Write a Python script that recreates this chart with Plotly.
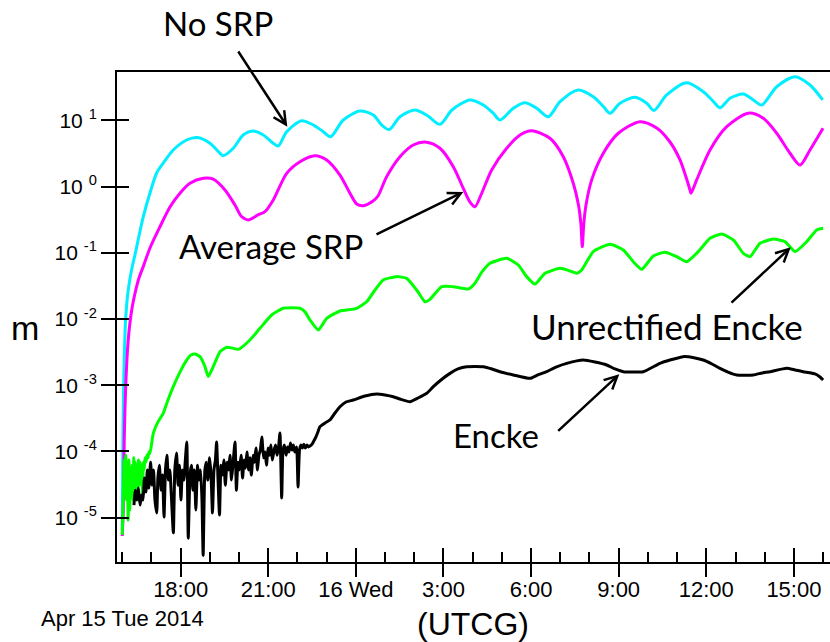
import plotly.graph_objects as go
import pandas as pd

# ---------------- data (hours after 2014-04-15 16:00 UTCG, values in m) ----------------
START = pd.Timestamp("2014-04-15 16:00")

nosrp_hours = [0.000, 0.024, 0.058, 0.116, 0.205, 0.332, 0.435, 0.572, 0.719, 0.949,
               1.178, 1.404, 1.747, 2.205, 2.568, 3.003, 3.346, 3.459, 3.801, 4.144,
               4.486, 4.829, 5.171, 5.342, 5.630, 6.144, 6.541, 6.884, 7.137, 7.568,
               8.140, 8.596, 8.884, 9.144, 9.510, 10.024, 10.469, 10.880, 11.291, 11.908,
               12.363, 12.695, 12.935, 13.390, 13.791, 14.192, 14.589, 14.990, 15.616, 16.130,
               16.462, 16.702, 17.045, 17.558, 17.959, 18.209, 18.644, 19.329, 19.897, 20.229,
               20.469, 20.812, 21.267, 21.610, 21.897, 22.411, 23.038, 23.551, 23.986]
nosrp_m = [6.5e-6, 2.1e-4, 1.7e-3, 1.0e-2, 2.74e-2, 5.89e-2, 9.25e-2, 0.179, 0.347, 0.798,
           1.60, 2.26, 3.56, 5.04, 5.50, 4.50, 3.18, 2.92, 3.78, 6.00,
           6.89, 6.00, 4.50, 4.09, 6.73, 9.86, 8.49, 6.73, 5.65, 10.1,
           13.8, 12.0, 8.49, 7.26, 11.3, 14.3, 11.6, 8.70, 14.3, 20.3,
           17.0, 12.9, 10.1, 15.2, 18.4, 15.2, 11.3, 19.1, 28.7, 22.7,
           16.4, 12.8, 18.1, 22.2, 18.1, 14.1, 24.1, 37.0, 27.0, 19.5,
           15.5, 21.5, 24.9, 20.3, 17.0, 32.1, 45.5, 34.1, 20.3]

avgsrp_hours = [0.000, 0.034, 0.068, 0.127, 0.205, 0.298, 0.401, 0.572, 0.719, 0.949,
                1.291, 1.634, 1.976, 2.318, 2.774, 3.116, 3.517, 3.860, 4.089, 4.315,
                4.647, 4.887, 5.171, 5.630, 6.086, 6.599, 7.000, 7.455, 7.798, 8.027,
                8.253, 8.586, 8.757, 9.055, 9.510, 9.966, 10.425, 10.880, 11.336, 11.678,
                11.908, 12.079, 12.308, 12.651, 13.164, 13.620, 14.021, 14.647, 15.103, 15.445,
                15.623, 15.709, 15.753, 15.801, 15.880, 16.075, 16.473, 16.986, 17.729, 18.301,
                18.757, 19.099, 19.305, 19.442, 19.476, 19.671, 20.127, 20.699, 21.438, 21.952,
                22.411, 22.866, 23.209, 23.551, 23.997]
avgsrp_m = [5.3e-6, 1.31e-5, 1.49e-4, 1.20e-3, 4.82e-3, 1.15e-2, 2.07e-2, 4.16e-2, 6.17e-2, 0.118,
            0.247, 0.491, 0.791, 1.12, 1.33, 1.29, 0.887, 0.526, 0.350, 0.313,
            0.372, 0.417, 0.626, 1.58, 2.37, 2.92, 2.52, 1.49, 0.791, 0.545,
            0.514, 0.605, 0.719, 1.41, 2.82, 4.24, 4.66, 3.78, 1.99, 0.940,
            0.583, 0.496, 0.791, 1.78, 3.78, 6.00, 6.97, 5.35, 2.82, 1.12,
            0.526, 0.262, 0.123, 0.262, 0.526, 1.26, 3.18, 6.37, 9.53, 7.65,
            4.70, 2.52, 1.39, 0.887, 0.791, 1.26, 3.56, 8.00, 12.8, 10.7,
            6.37, 3.18, 2.11, 3.56, 7.57]

unrect_hours = [0.000, 0.034, 0.065, 0.092, 0.120, 0.147, 0.175, 0.202, 0.229, 0.257,
                0.284, 0.312, 0.339, 0.366, 0.394, 0.421, 0.449, 0.476, 0.503, 0.531,
                0.558, 0.586, 0.613, 0.640, 0.668, 0.695, 0.723, 0.750, 0.777, 0.812,
                0.846, 0.880, 0.914, 0.949,
                1.062, 1.223, 1.404, 1.565, 1.747, 1.976, 2.205, 2.353, 2.490, 2.661,
                2.832, 2.945, 3.116, 3.346, 3.575, 3.757, 3.973, 4.373, 4.716, 5.116,
                5.514, 6.086, 6.257, 6.428, 6.712, 7.000, 7.455, 8.027, 8.370, 8.654,
                8.938, 9.397, 9.740, 10.082, 10.366, 10.538, 10.938, 11.336, 11.849, 12.079,
                12.318, 12.592, 13.164, 13.562, 13.849, 14.134, 14.476, 14.990, 15.332, 15.562,
                15.733, 16.130, 16.702, 17.158, 17.500, 17.788, 18.185, 18.586, 18.986, 19.329,
                19.726, 20.127, 20.527, 20.925, 21.267, 21.497, 21.839, 22.295, 22.695, 23.038,
                23.438, 23.781, 24.000]
unrect_m = [5.5e-6, 1.85e-5, 7.4e-5, 5.3e-5, 8.8e-5, 1.85e-5, 5.3e-5, 9.2e-6, 7.4e-5, 1.31e-5,
            5.3e-5, 2.2e-5, 6.2e-5, 1.85e-5, 8.0e-5, 3.7e-5, 6.9e-5, 2.6e-5, 5.3e-5, 1.85e-5,
            7.4e-5, 3.1e-5, 6.9e-5, 3.7e-5, 6.2e-5, 2.2e-5, 6.9e-5, 5.3e-5, 8.0e-5, 6.9e-5,
            8.8e-5, 8.0e-5, 9.8e-5, 9.4e-5,
            1.88e-4, 2.79e-4, 3.77e-4, 5.98e-4, 9.51e-4, 1.58e-3, 2.40e-3, 2.86e-3, 2.96e-3, 2.70e-3,
            1.91e-3, 1.35e-3, 1.91e-3, 3.21e-3, 3.74e-3, 3.65e-3, 3.48e-3, 4.82e-3, 7.23e-3, 1.15e-2,
            1.45e-2, 1.45e-2, 1.28e-2, 9.66e-3, 6.82e-3, 1.02e-2, 1.32e-2, 1.45e-2, 1.82e-2, 2.74e-2,
            3.88e-2, 4.36e-2, 4.11e-2, 2.74e-2, 1.82e-2, 1.98e-2, 3.08e-2, 3.08e-2, 2.84e-2, 3.46e-2,
            5.13e-2, 6.93e-2, 8.24e-2, 6.53e-2, 4.36e-2, 3.37e-2, 4.90e-2, 5.82e-2, 5.31e-2, 4.90e-2,
            5.50e-2, 0.104, 0.134, 0.110, 7.33e-2, 5.62e-2, 8.93e-2, 0.102, 8.73e-2, 7.33e-2,
            0.104, 0.165, 0.192, 0.156, 9.82e-2, 8.73e-2, 0.139, 0.161, 0.147, 0.104,
            0.147, 0.221, 0.234]

encke_hours = [0.40, 0.45, 0.50, 0.55, 0.61, 0.66, 0.71, 0.76, 0.81, 0.86,
               0.91, 0.97, 1.02, 1.07, 1.12, 1.18, 1.22, 1.27, 1.33, 1.38,
               1.43, 1.48, 1.53, 1.58, 1.63, 1.68, 1.75, 1.80, 1.86, 1.91,
               1.96, 2.01, 2.06, 2.11, 2.16, 2.21, 2.26, 2.32, 2.37, 2.42,
               2.47, 2.52, 2.58, 2.63, 2.68, 2.73, 2.77, 2.83, 2.88, 2.93,
               2.99, 3.04, 3.09, 3.14, 3.19, 3.23, 3.28, 3.33, 3.38, 3.43,
               3.48, 3.53, 3.59, 3.64, 3.69, 3.74, 3.79, 3.86, 3.91, 3.96,
               4.01, 4.07, 4.12, 4.17, 4.22, 4.27, 4.32, 4.37, 4.42, 4.48,
               4.53, 4.58, 4.63, 4.68, 4.73, 4.78, 4.84, 4.89, 4.94, 4.99,
               5.04, 5.09, 5.14, 5.20, 5.25, 5.30, 5.35, 5.40, 5.46, 5.50,
               5.55, 5.61, 5.66, 5.71, 5.76, 5.81, 5.86, 5.91, 5.97, 6.02,
               6.07, 6.12, 6.17, 6.22, 6.27, 6.33, 6.38, 6.43, 6.50, 6.56,
               6.63, 6.70,
               6.770, 6.942, 7.113, 7.284, 7.455, 7.661, 7.911, 8.312, 8.712, 8.997,
               9.281, 9.510, 9.853, 10.127, 10.425, 10.651, 10.914, 11.223, 11.497, 11.795,
               12.363, 12.661, 12.935, 13.390, 13.962, 14.236, 14.534, 14.853, 15.219, 15.788,
               16.188, 16.589, 16.873, 17.158, 17.842, 18.106, 18.414, 18.757, 19.212, 19.613,
               19.897, 20.195, 20.469, 20.743, 21.041, 21.610, 21.908, 22.182, 22.753, 23.038,
               23.322, 23.723, 23.894, 24.000]
encke_m = [1.55e-5, 2.6e-5, 1.85e-5, 2.8e-5, 1.55e-5, 2.2e-5, 1.85e-5, 3.97e-5, 2.44e-5, 5.25e-5,
           2.8e-5, 6.9e-5, 3.1e-5, 5.25e-5, 1.85e-5, 1.18e-5, 3.97e-5, 6.2e-5, 2.6e-5, 4.4e-5,
           1.02e-5, 5.25e-5, 8.8e-5, 3.7e-5, 5.25e-5, 2.2e-5, 5.9e-6, 5.25e-5, 9.5e-5, 3.1e-5,
           6.2e-5, 1.85e-5, 5.25e-5, 3.7e-5, 7.4e-5, 1.39e-4, 4.9e-6, 4.4e-5, 6.2e-5, 2.6e-5,
           5.25e-5, 1.31e-5, 6.2e-5, 3.7e-5, 5.25e-5, 1.85e-5, 2.7e-6, 5.25e-5, 6.9e-5, 3.7e-5,
           8.0e-5, 4.4e-5, 1.18e-5, 5.25e-5, 7.4e-5, 1.39e-4, 3.7e-5, 1.10e-5, 6.2e-5, 4.4e-5,
           7.4e-5, 3.1e-5, 6.9e-5, 5.25e-5, 8.8e-5, 3.7e-5, 6.2e-5, 1.39e-4, 2.6e-5, 6.9e-5,
           5.25e-5, 8.8e-5, 3.97e-5, 7.4e-5, 5.6e-5, 9.8e-5, 5.25e-5, 8.0e-5, 4.4e-5, 8.8e-5,
           6.9e-5, 1.13e-4, 5.25e-5, 8.8e-5, 1.05e-4, 1.65e-4, 8.0e-5, 9.8e-5, 6.2e-5, 1.13e-4,
           8.8e-5, 1.25e-4, 7.4e-5, 1.05e-4, 1.25e-4, 8.8e-5, 1.13e-4, 1.90e-4, 1.98e-5, 9.8e-5,
           1.25e-4, 8.8e-5, 1.17e-4, 9.8e-5, 1.34e-4, 1.05e-4, 1.25e-4, 9.8e-5, 1.17e-4, 2.9e-5,
           1.05e-4, 1.25e-4, 1.13e-4, 1.29e-4, 1.13e-4, 1.25e-4, 1.17e-4, 1.21e-4, 1.29e-4, 1.44e-4,
           1.65e-4, 1.97e-4,
           2.37e-4, 2.69e-4, 2.99e-4, 3.81e-4, 4.74e-4, 5.58e-4, 5.98e-4, 6.87e-4, 7.37e-4, 7.12e-4,
           6.71e-4, 6.19e-4, 5.64e-4, 6.41e-4, 7.55e-4, 9.51e-4, 1.20e-3, 1.51e-3, 1.76e-3, 1.90e-3,
           1.90e-3, 1.76e-3, 1.60e-3, 1.43e-3, 1.27e-3, 1.43e-3, 1.60e-3, 1.88e-3, 2.14e-3, 2.40e-3,
           2.24e-3, 2.02e-3, 1.76e-3, 1.60e-3, 1.60e-3, 1.82e-3, 2.14e-3, 2.40e-3, 2.70e-3, 2.58e-3,
           2.40e-3, 2.09e-3, 1.80e-3, 1.58e-3, 1.43e-3, 1.43e-3, 1.53e-3, 1.60e-3, 1.80e-3, 1.70e-3,
           1.60e-3, 1.48e-3, 1.33e-3, 1.20e-3]

# axis ticks
x_tick_hours = [2, 5, 8, 11, 14, 17, 20, 23]
x_tick_text = ["18:00", "21:00", "16 Wed", "3:00", "6:00", "9:00", "12:00", "15:00"]
y_tick_vals = [1e-5, 1e-4, 1e-3, 1e-2, 1e-1, 1e0, 1e1]
y_tick_text = ["10 <sup>-5</sup>", "10 <sup>-4</sup>", "10 <sup>-3</sup>", "10 <sup>-2</sup>",
               "10 <sup>-1</sup>", "10 <sup>0</sup>", "10 <sup>1</sup>"]


def times(hours):
    return [START + pd.Timedelta(hours=h) for h in hours]


# ---------------- layout geometry (pixels) ----------------
W, H = 830, 642
L, R, T, B = 117, 0, 72, 80
PW, PH = W - L - R, H - T - B


def px(x):
    return (x - L) / PW


def py(y):
    return (H - B - y) / PH


fig = go.Figure()
series = [
    ("No SRP", nosrp_hours, nosrp_m, "#00EEFF", 0.8),
    ("Average SRP", avgsrp_hours, avgsrp_m, "#FF00FF", 0.8),
    ("Unrectified Encke", unrect_hours, unrect_m, "#00FF00", 0.5),
    ("Encke", encke_hours, encke_m, "#000000", 0.5),
]
for name, hrs, vals, col, sm in series:
    fig.add_trace(go.Scatter(x=times(hrs), y=vals, mode="lines", name=name,
                             line=dict(color=col, width=3, shape="spline", smoothing=sm),
                             showlegend=False))

# empty helper traces so that the overlay tick axes are drawn
fig.add_trace(go.Scatter(x=[], y=[], xaxis="x2", yaxis="y2", showlegend=False, hoverinfo="skip"))
fig.add_trace(go.Scatter(x=[], y=[], xaxis="x3", yaxis="y", showlegend=False, hoverinfo="skip"))

x_range = [START + pd.Timedelta(hours=-0.18), START + pd.Timedelta(hours=24.236)]
y_range = [-5.669, 1.729]
tick_common = dict(tickwidth=1.5, tickcolor="black", showgrid=False, zeroline=False)

fig.update_layout(
    width=W, height=H,
    margin=dict(l=L, r=R, t=T, b=B, pad=0),
    paper_bgcolor="white", plot_bgcolor="white",
    xaxis=dict(type="date", range=x_range,
               showline=True, linecolor="black", linewidth=2, mirror=True,
               ticks="outside", ticklen=7,
               tickmode="array", tickvals=times(x_tick_hours), ticktext=x_tick_text,
               tickfont=dict(family="Liberation Sans, Arial", size=22, color="black"),
               minor=dict(ticks="inside", ticklen=10, tickwidth=1.5, tickcolor="black",
                          tickmode="linear", tick0=START, dtick=3600000, showgrid=False),
               **tick_common),
    xaxis2=dict(type="date", range=x_range, overlaying="x", anchor="y2", side="bottom",
                showline=False, showticklabels=False, ticks="outside", ticklen=14,
                tickmode="array", tickvals=times(x_tick_hours), **tick_common),
    xaxis3=dict(type="date", range=x_range, overlaying="x", anchor="y", side="bottom",
                showline=False, showticklabels=False, ticks="inside", ticklen=14,
                tickmode="array", tickvals=times(x_tick_hours), **tick_common),
    yaxis=dict(type="log", range=y_range,
               showline=True, linecolor="black", linewidth=2,
               ticks="outside", ticklen=14,
               tickmode="array", tickvals=y_tick_vals, ticktext=y_tick_text,
               tickfont=dict(family="Liberation Sans, Arial", size=21, color="black"),
               **tick_common),
    yaxis2=dict(type="log", range=y_range, overlaying="y", anchor="x2", side="left",
                showline=False, showticklabels=False, ticks="inside", ticklen=12,
                tickmode="array", tickvals=y_tick_vals, **tick_common),
)

label_font = dict(family="Lato, Calibri, sans-serif", size=33, color="black")
texts = [
    ("No SRP", 218, 23),
    ("Average SRP", 271, 246),
    ("Unrectified Encke", 667, 326),
    ("Encke", 495.5, 434.5),
]
for txt, cx, cy in texts:
    fig.add_annotation(text=txt, x=px(cx), y=py(cy), xref="paper", yref="paper",
                       xanchor="center", yanchor="middle", showarrow=False,
                       font=dict(label_font, size=35 if txt == "Unrectified Encke" else 33))

arrows = [  # tip (x, y), tail (x, y)
    ((287.3, 126.7), (237.3, 50.0)),
    ((463.3, 192.0), (375.0, 235.0)),
    ((790.7, 247.3), (730.0, 304.0)),
    ((619.3, 374.3), (556.7, 432.3)),
]
for (tx, ty), (sx, sy) in arrows:
    fig.add_annotation(text="", x=px(tx), y=py(ty), xref="paper", yref="paper",
                       showarrow=True, ax=sx - tx, ay=sy - ty, axref="pixel", ayref="pixel",
                       arrowhead=5, arrowsize=1.0, arrowwidth=2.5, arrowcolor="black",
                       standoff=0, startstandoff=0)

axis_font = dict(family="Liberation Sans, Arial", color="black")
fig.add_annotation(text="m", x=px(25), y=py(328), xref="paper", yref="paper",
                   xanchor="center", yanchor="middle", showarrow=False,
                   font=dict(size=34, **axis_font))
fig.add_annotation(text="(UTCG)", x=px(473), y=py(624), xref="paper", yref="paper",
                   xanchor="center", yanchor="middle", showarrow=False,
                   font=dict(size=32, **axis_font))
fig.add_annotation(text="Apr 15 Tue 2014", x=px(122), y=py(618), xref="paper", yref="paper",
                   xanchor="center", yanchor="middle", showarrow=False,
                   font=dict(size=22, **axis_font))

fig.write_html("out.html")
